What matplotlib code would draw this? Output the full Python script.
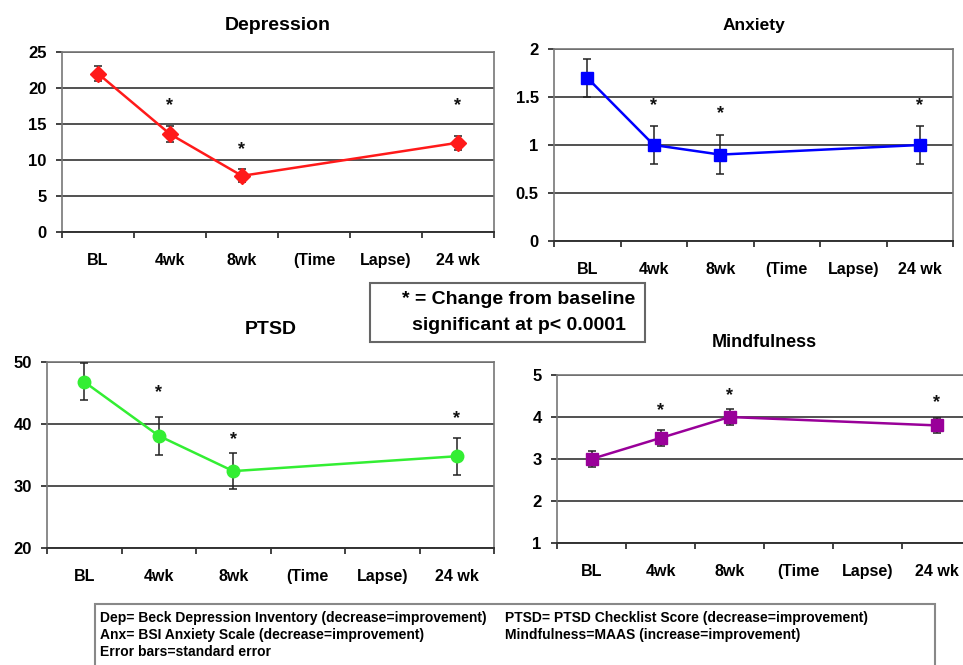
import numpy as np
import matplotlib
matplotlib.use('Agg')
import matplotlib.pyplot as plt
from matplotlib.patches import Rectangle

plt.rcParams['font.family'] = ['Liberation Sans', 'DejaVu Sans']
plt.rcParams['font.weight'] = 'bold'

W, H = 963, 665

# time points (slot index on the category axis)
x_pos = np.array([0, 1, 2, 5])
slot_labels = ['BL', '4wk', '8wk', '(Time', 'Lapse)', '24 wk']

dep_vals = np.array([22.0, 13.6, 7.8, 12.4])
dep_err = np.array([1.0, 1.1, 0.9, 1.0])
dep_star = np.array([17.5, 11.5, 17.5])

anx_vals = np.array([1.7, 1.0, 0.9, 1.0])
anx_err = np.array([0.2, 0.2, 0.2, 0.2])
anx_star = np.array([1.41, 1.33, 1.41])

ptsd_vals = np.array([46.8, 38.1, 32.4, 34.8])
ptsd_err = np.array([3.0, 3.1, 2.9, 3.0])
ptsd_star = np.array([45.0, 37.5, 40.8])

mind_vals = np.array([3.0, 3.5, 4.0, 3.8])
mind_err = np.array([0.2, 0.18, 0.2, 0.17])
mind_star = np.array([4.15, 4.52, 4.34])


def px_axes(fig, x0, y0, x1, y1):
    return fig.add_axes([x0 / W, 1 - y1 / H, (x1 - x0) / W, (y1 - y0) / H])


def panel(ax, title, vals, err, stars, color, marker, ms, yticks, ylabels,
          title_size, title_pad):
    ax.errorbar(x_pos, vals, yerr=err, fmt='none', ecolor='#222222', elinewidth=1.1,
                capsize=3, capthick=1.1, zorder=3)
    ax.plot(x_pos, vals, color=color, lw=1.8, marker=marker, ms=ms,
            markerfacecolor=color, markeredgecolor=color, zorder=4)
    for xs, ys in zip(x_pos[1:], stars):
        ax.text(xs, ys, '*', ha='center', va='center', fontsize=13, color='#111111')
    ax.set_xlim(-0.5, 5.5)
    ax.set_ylim(yticks[0], yticks[-1])
    ax.set_yticks(yticks)
    ax.set_yticklabels(ylabels, fontsize=12, fontweight='bold')
    ax.yaxis.grid(True, color='#222222', lw=1.1)
    ax.set_axisbelow(True)
    ax.set_xticks(np.arange(-0.5, 6.0, 1.0))
    ax.set_xticklabels([])
    ax.set_xticks(np.arange(0, 6), minor=True)
    ax.set_xticklabels(slot_labels, minor=True, fontsize=11.5, fontweight='bold')
    ax.tick_params(axis='x', which='major', length=4, width=1.2, color='#222222')
    ax.tick_params(axis='x', which='minor', length=0, pad=15)
    ax.tick_params(axis='y', length=4, width=1.2, color='#222222', pad=7)
    for side in ['left', 'right', 'top']:
        ax.spines[side].set_color('#777777')
        ax.spines[side].set_linewidth(1.2)
    ax.spines['bottom'].set_color('#333333')
    ax.spines['bottom'].set_linewidth(1.4)
    ax.set_title(title, fontsize=title_size, fontweight='bold', pad=title_pad)


fig = plt.figure(figsize=(W / 100, H / 100), dpi=100)

ax1 = px_axes(fig, 62, 52, 494, 232)
panel(ax1, 'Depression', dep_vals, dep_err, dep_star, '#ff1a1a', 'D', 8,
      [0, 5, 10, 15, 20, 25], ['0', '5', '10', '15', '20', '25'], 14, 16)

ax2 = px_axes(fig, 554, 49, 953, 241)
panel(ax2, 'Anxiety', anx_vals, anx_err, anx_star, '#0000ff', 's', 8,
      [0, 0.5, 1, 1.5, 2], ['0', '0.5', '1', '1.5', '2'], 12.5, 14)

ax3 = px_axes(fig, 47, 362, 494, 548)
panel(ax3, 'PTSD', ptsd_vals, ptsd_err, ptsd_star, '#33ee33', 'o', 9,
      [20, 30, 40, 50], ['20', '30', '40', '50'], 14, 20)

ax4 = px_axes(fig, 557, 375, 971, 543)
panel(ax4, 'Mindfulness', mind_vals, mind_err, mind_star, '#990099', 's', 8,
      [1, 2, 3, 4, 5], ['1', '2', '3', '4', '5'], 13, 20)

# significance note box
fig.patches.append(Rectangle((370 / W, 1 - 342 / H), (645 - 370) / W, (342 - 283) / H,
                             transform=fig.transFigure, fill=False,
                             edgecolor='#666666', lw=1.5))
fig.text(519 / W, 1 - 299 / H, '* = Change from baseline', ha='center', va='center',
         fontsize=14, fontweight='bold')
fig.text(519 / W, 1 - 325 / H, 'significant at p< 0.0001', ha='center', va='center',
         fontsize=14, fontweight='bold')

# footnote box
fig.patches.append(Rectangle((95 / W, -0.01), (935 - 95) / W, 1 - 604 / H + 0.01,
                             transform=fig.transFigure, fill=False,
                             edgecolor='#888888', lw=1.5))
foot_kw = dict(va='center', fontsize=10, fontweight='bold', family=['Liberation Sans'])
fig.text(100 / W, 1 - 618 / H, 'Dep= Beck Depression Inventory (decrease=improvement)', **foot_kw)
fig.text(505 / W, 1 - 618 / H, 'PTSD= PTSD Checklist Score (decrease=improvement)', **foot_kw)
fig.text(100 / W, 1 - 635 / H, 'Anx= BSI Anxiety Scale (decrease=improvement)', **foot_kw)
fig.text(505 / W, 1 - 635 / H, 'Mindfulness=MAAS (increase=improvement)', **foot_kw)
fig.text(100 / W, 1 - 652 / H, 'Error bars=standard error', **foot_kw)

fig.savefig('out.png', dpi=100)
